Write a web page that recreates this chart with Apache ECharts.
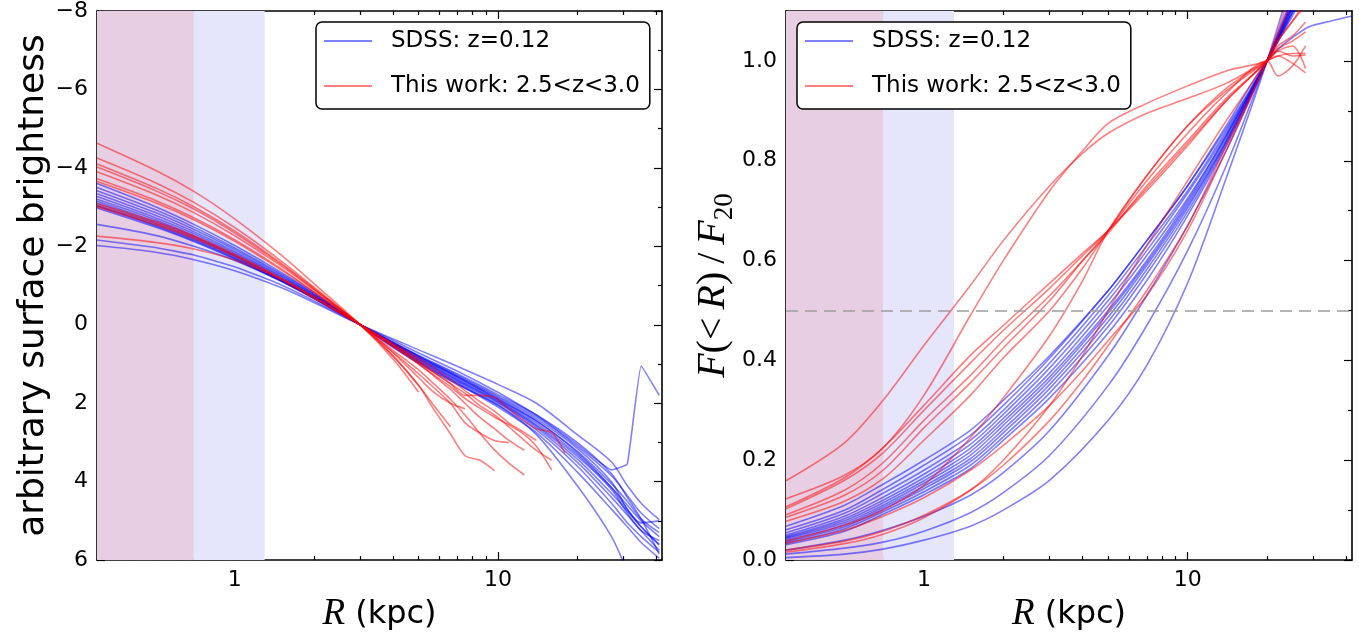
<!DOCTYPE html>
<html><head><meta charset="utf-8">
<script src="https://cdn.jsdelivr.net/npm/echarts@6/dist/echarts.min.js"></script>
<style>html,body{margin:0;padding:0;background:#fff}#c{width:1359px;height:638px}</style>
</head><body><div id="c"></div>
<script>
// ---------------- data ----------------
const legendNames = ['SDSS: z=0.12', 'This work: 2.5<z<3.0'];
const xMajorTicks = [1, 10];
const xMinorTicks = [0.4, 0.5, 0.6, 0.7, 0.8, 0.9, 2, 3, 4, 5, 6, 7, 8, 9, 20, 30, 40];
const sbTicks = [-8, -6, -4, -2, 0, 2, 4, 6];
const sbMinorTicks = [-7, -5, -3, -1, 1, 3, 5];
const cfTicks = [0, 0.2, 0.4, 0.6, 0.8, 1.0];
const cfMinorTicks = [0.1, 0.3, 0.5, 0.7, 0.9];
const bandInner = [0.3, 0.7];
const bandOuter = [0.7, 1.3];
const halfLevel = 0.5;

// left panel: surface brightness, SDSS radii
const sbRadiiSDSS = [0.3, 0.5, 0.7, 1, 1.5, 2, 3, 4, 5, 7, 10, 14, 20, 27, 31, 35, 41];
const sbS1  = [-2.02, -1.85, -1.66, -1.38, -0.95, -0.57, 0, 0.36, 0.64, 1.06, 1.52, 2.0, 2.8, 3.5, 4.1, 4.55, 4.97];
const sbS2  = [-2.16, -1.97, -1.78, -1.48, -1.02, -0.61, 0, 0.4, 0.72, 1.18, 1.72, 2.3, 3.05, 3.7, 3.55, 1.05, 1.8];
const sbS3  = [-2.56, -2.28, -2.0, -1.64, -1.12, -0.67, 0, 0.45, 0.8, 1.32, 1.9, 2.45, 3.25, 4.15, 4.7, 5.15, 5.6];
const sbS4  = [-3.6, -3.01, -2.56, -2.02, -1.34, -0.81, 0, 0.58, 0.98, 1.52, 2.05, 2.8, 4.1, 5.4, 6.3];
const sbS5  = [-3.5, -2.93, -2.49, -1.96, -1.3, -0.79, 0, 0.56, 0.96, 1.5, 2.1, 2.75, 3.75, 4.7, 5.15, 5.55, 5.95];
const sbS6  = [-3.42, -2.86, -2.43, -1.92, -1.27, -0.77, 0, 0.55, 0.94, 1.48, 2.05, 2.68, 3.6, 4.55, 5.05, 5.4, 5.8];
const sbS7  = [-3.34, -2.79, -2.37, -1.87, -1.24, -0.75, 0, 0.53, 0.92, 1.45, 2.0, 2.62, 3.5, 4.4, 4.85, 5.25, 5.75];
const sbS8  = [-3.27, -2.73, -2.32, -1.83, -1.22, -0.74, 0, 0.52, 0.9, 1.42, 1.97, 2.58, 3.42, 4.3, 4.75, 5.15, 5.62];
const sbS9  = [-3.2, -2.68, -2.27, -1.79, -1.19, -0.72, 0, 0.5, 0.88, 1.4, 1.95, 2.55, 3.35, 4.2, 4.8, 5.25, 5.5];
const sbS10 = [-3.15, -2.63, -2.24, -1.76, -1.17, -0.71, 0, 0.5, 0.86, 1.37, 1.92, 2.5, 3.3, 4.15, 4.6, 5.0, 5.4];
const sbS11 = [-3.1, -2.59, -2.2, -1.74, -1.15, -0.7, 0, 0.48, 0.84, 1.34, 1.88, 2.45, 3.22, 4.05, 4.5, 4.95, 5.3];
const sbS12 = [-3.05, -2.55, -2.17, -1.71, -1.13, -0.69, 0, 0.47, 0.82, 1.31, 1.85, 2.4, 3.15, 4.0, 4.7, 5.05, 5.0];
const sbS13 = [-3.02, -2.52, -2.14, -1.69, -1.12, -0.68, 0, 0.46, 0.8, 1.28, 1.82, 2.35, 3.1, 3.85, 4.35, 4.8, 5.2];
const sbS14 = [-2.98, -2.49, -2.12, -1.67, -1.11, -0.67, 0, 0.45, 0.78, 1.25, 1.78, 2.3, 3.0, 3.8, 4.4, 4.95, 5.85];

// left panel: surface brightness, this work radii
const sbRadiiWork = [0.3, 0.5, 0.7, 1, 1.5, 2, 3, 4, 5, 5.7, 6.6, 7.5, 8.5, 9.7, 11, 12.6, 14, 16, 18];
const sbW1  = [-4.63, -3.94, -3.4, -2.7, -1.78, -1.05, 0, 0.88, 1.72];
const sbW2  = [-4.25, -3.62, -3.12, -2.48, -1.63, -0.96, 0, 0.8, 1.55, 2.05, 2.6];
const sbW3  = [-4.1, -3.49, -3.01, -2.39, -1.57, -0.93, 0, 0.72, 1.35, 1.72, 2.0, 2.14];
const sbW4  = [-4.02, -3.42, -2.95, -2.34, -1.54, -0.91, 0, 0.8, 1.55, 2.15, 2.78, 3.34, 3.45, 3.72];
const sbW5  = [-3.9, -3.32, -2.86, -2.27, -1.5, -0.89, 0, 0.7, 1.25, 1.6, 2.0, 2.5, 2.75, 2.95, 3.0];
const sbW6  = [-3.72, -3.17, -2.73, -2.17, -1.43, -0.84, 0, 0.65, 1.15, 1.5, 1.9, 2.3, 2.75, 3.19, 3.53, 3.83];
const sbW7  = [-3.65, -3.11, -2.68, -2.13, -1.4, -0.83, 0, 0.55, 1.0, 1.28, 1.58, 1.88, 2.12, 2.35, 2.55, 2.8, 3.1, 3.7];
const sbW8  = [-3.09, -2.63, -2.27, -1.8, -1.19, -0.7, 0, 0.5, 0.95, 1.22, 1.5, 1.8, 1.8, 1.85, 2.15, 2.45, 2.65, 2.75, 3.28];
const sbW9  = [-3.04, -2.59, -2.23, -1.77, -1.17, -0.69, 0, 0.52, 0.92, 1.2, 1.5, 1.75, 2.05, 2.3, 2.6, 2.95, 3.2, 3.45];
const sbW10 = [-2.26, -2.1, -1.93, -1.65, -1.17, -0.72, 0, 0.48, 0.85, 1.1, 1.4, 1.68, 1.95, 2.2, 2.5, 2.75, 2.95];
const sbW11 = [-3.0, -2.55, -2.2, -1.75, -1.15, -0.68, 0, 0.55, 1.0, 1.3, 1.65, 2.0, 2.35, 2.65, 2.95, 3.2];

// right panel: cumulative flux, SDSS radii
const cfRadiiSDSS = [0.3, 0.5, 0.7, 1, 1.5, 2, 3, 5, 7, 10, 14, 20, 28, 35, 42];
const cfS1  = [0.005, 0.012, 0.022, 0.04, 0.068, 0.1, 0.16, 0.28, 0.39, 0.555, 0.765, 1.0, 1.25, 1.4, 1.5];
const cfS2  = [0.012, 0.024, 0.036, 0.058, 0.095, 0.135, 0.21, 0.35, 0.47, 0.62, 0.79, 1.0, 1.2, 1.35, 1.5];
const cfS3  = [0.02, 0.04, 0.06, 0.088, 0.13, 0.175, 0.26, 0.41, 0.53, 0.67, 0.82, 1.0, 1.18, 1.3, 1.42];
const cfS4  = [0.068, 0.11, 0.152, 0.2, 0.26, 0.32, 0.41, 0.54, 0.64, 0.75, 0.87, 1.0, 1.065, 1.08, 1.09];
const cfS5  = [0.061, 0.1, 0.142, 0.19, 0.25, 0.31, 0.405, 0.54, 0.64, 0.75, 0.865, 1.0, 1.14, 1.25, 1.35];
const cfS6  = [0.055, 0.094, 0.134, 0.18, 0.24, 0.3, 0.395, 0.53, 0.63, 0.74, 0.86, 1.0, 1.15, 1.27, 1.37];
const cfS7  = [0.05, 0.088, 0.126, 0.172, 0.232, 0.292, 0.385, 0.52, 0.62, 0.735, 0.855, 1.0, 1.15, 1.27, 1.38];
const cfS8  = [0.047, 0.083, 0.12, 0.165, 0.224, 0.284, 0.375, 0.51, 0.61, 0.725, 0.85, 1.0, 1.16, 1.28, 1.38];
const cfS9  = [0.045, 0.079, 0.115, 0.159, 0.217, 0.277, 0.367, 0.5, 0.6, 0.72, 0.85, 1.0, 1.16, 1.28, 1.4];
const cfS10 = [0.043, 0.075, 0.11, 0.154, 0.21, 0.27, 0.36, 0.495, 0.595, 0.715, 0.845, 1.0, 1.17, 1.3, 1.4];
const cfS11 = [0.04, 0.071, 0.106, 0.148, 0.203, 0.262, 0.352, 0.487, 0.59, 0.71, 0.84, 1.0, 1.17, 1.3, 1.4];
const cfS12 = [0.037, 0.067, 0.102, 0.143, 0.197, 0.255, 0.344, 0.478, 0.582, 0.705, 0.838, 1.0, 1.18, 1.3, 1.42];
const cfS13 = [0.034, 0.063, 0.097, 0.137, 0.19, 0.247, 0.335, 0.468, 0.573, 0.698, 0.835, 1.0, 1.18, 1.32, 1.42];
const cfS14 = [0.031, 0.058, 0.092, 0.131, 0.183, 0.24, 0.325, 0.455, 0.56, 0.69, 0.83, 1.0, 1.19, 1.32, 1.44];

// right panel: cumulative flux, this work radii
const cfRadiiWork = [0.3, 0.5, 0.7, 1, 1.5, 2, 3, 4, 5, 7, 10, 14, 20, 22, 25, 28];
const cfW1  = [0.159, 0.235, 0.32, 0.43, 0.55, 0.64, 0.75, 0.815, 0.855, 0.895, 0.925, 0.955, 1.0, 1.01, 1.015, 1.015];
const cfW2  = [0.123, 0.17, 0.225, 0.33, 0.49, 0.6, 0.74, 0.82, 0.875, 0.915, 0.95, 0.98, 1.0, 1.02, 1.01, 1.012];
const cfW3  = [0.107, 0.165, 0.225, 0.31, 0.41, 0.47, 0.555, 0.615, 0.66, 0.74, 0.83, 0.92, 1.0, 1.03, 1.05, 1.078];
const cfW4  = [0.103, 0.16, 0.215, 0.3, 0.395, 0.46, 0.545, 0.61, 0.66, 0.745, 0.835, 0.92, 1.0, 1.025, 1.04, 1.058];
const cfW5  = [0.091, 0.14, 0.195, 0.28, 0.37, 0.44, 0.53, 0.6, 0.655, 0.75, 0.84, 0.925, 1.0, 1.04, 1.08, 1.12];
const cfW6  = [0.086, 0.13, 0.18, 0.265, 0.355, 0.425, 0.52, 0.6, 0.66, 0.76, 0.855, 0.935, 1.0, 0.97, 0.99, 1.03];
const cfW7  = [0.078, 0.118, 0.163, 0.24, 0.33, 0.405, 0.5, 0.585, 0.66, 0.77, 0.87, 0.945, 1.0, 1.01, 0.995, 0.976];
const cfW8  = [0.038, 0.07, 0.1, 0.15, 0.245, 0.325, 0.45, 0.56, 0.66, 0.77, 0.87, 0.94, 1.0, 1.02, 1.03, 0.985];
const cfW9  = [0.034, 0.06, 0.088, 0.125, 0.18, 0.23, 0.31, 0.38, 0.44, 0.53, 0.66, 0.82, 1.0, 1.06, 1.15, 1.22];
const cfW10 = [0.02, 0.038, 0.058, 0.09, 0.14, 0.19, 0.28, 0.36, 0.43, 0.54, 0.67, 0.83, 1.0, 1.05, 1.12, 1.18];
const cfW11 = [0.016, 0.033, 0.052, 0.085, 0.14, 0.2, 0.31, 0.41, 0.5, 0.63, 0.76, 0.88, 1.0, 1.04, 1.08, 1.11];

const sbSDSS = [sbS1, sbS2, sbS3, sbS4, sbS5, sbS6, sbS7, sbS8, sbS9, sbS10, sbS11, sbS12, sbS13, sbS14];
const sbWork = [sbW1, sbW2, sbW3, sbW4, sbW5, sbW6, sbW7, sbW8, sbW9, sbW10, sbW11];
const cfSDSS = [cfS1, cfS2, cfS3, cfS4, cfS5, cfS6, cfS7, cfS8, cfS9, cfS10, cfS11, cfS12, cfS13, cfS14];
const cfWork = [cfW1, cfW2, cfW3, cfW4, cfW5, cfW6, cfW7, cfW8, cfW9, cfW10, cfW11];

// ---------------- styling ----------------
const BLUE = 'rgba(0,0,255,0.5)';
const RED = 'rgba(255,0,0,0.5)';
const PINK = 'rgb(231,206,227)';
const LAV = 'rgb(229,229,251)';
const FONT = 'DejaVu Sans';
const SERIF = 'Liberation Serif';
const LW = 1.6;

function pairs(radii, vals) {
  const out = [];
  for (let i = 0; i < vals.length; i++) out.push([radii[i], vals[i]]);
  return out;
}

function xAxes(g) {
  const base = {type: 'log', logBase: 10, gridIndex: g, min: 0.3, max: 42, splitLine: {show: false}, minorTick: {show: false}};
  const tickStyle = {color: '#000', width: 1.2};
  return [
    Object.assign({}, base, {
      position: 'bottom',
      axisLine: {show: true, onZero: false, lineStyle: {color: '#000', width: 1.6}},
      axisTick: {show: true, inside: true, length: 8, customValues: xMajorTicks, lineStyle: tickStyle},
      axisLabel: {show: true, customValues: xMajorTicks, fontSize: 22, color: '#000', fontFamily: FONT, margin: 9, formatter: v => String(Math.round(v))},
      name: '{i|R}{n| (kpc)}', nameLocation: 'middle', nameGap: 31,
      nameTextStyle: {rich: {
        i: {fontFamily: SERIF, fontStyle: 'italic', fontSize: 37, color: '#000', lineHeight: 40},
        n: {fontFamily: FONT, fontSize: 32, color: '#000', lineHeight: 40}
      }}
    }),
    Object.assign({}, base, {
      position: 'bottom', axisLine: {show: false, onZero: false},
      axisTick: {show: true, inside: true, length: 4, customValues: xMinorTicks, lineStyle: tickStyle},
      axisLabel: {show: false}
    }),
    Object.assign({}, base, {
      position: 'top', axisLine: {show: true, onZero: false, lineStyle: {color: '#000', width: 1.6}},
      axisTick: {show: true, inside: true, length: 8, customValues: xMajorTicks, lineStyle: tickStyle},
      axisLabel: {show: false}
    }),
    Object.assign({}, base, {
      position: 'top', axisLine: {show: false, onZero: false},
      axisTick: {show: true, inside: true, length: 4, customValues: xMinorTicks, lineStyle: tickStyle},
      axisLabel: {show: false}
    })
  ];
}

function yAxes(g, min, max, inverse, major, minor, fmt, name, nameGap, nameStyle) {
  const base = {type: 'value', gridIndex: g, min: min, max: max, inverse: inverse, splitLine: {show: false}};
  const tickStyle = {color: '#000', width: 1.2};
  return [
    Object.assign({}, base, {
      position: 'left',
      axisLine: {show: true, onZero: false, lineStyle: {color: '#000', width: 1.6}},
      axisTick: {show: true, inside: true, length: 8, customValues: major, lineStyle: tickStyle},
      axisLabel: {show: true, customValues: major, fontSize: 22, color: '#000', fontFamily: FONT, margin: 9, formatter: fmt},
      name: name, nameLocation: 'middle', nameGap: nameGap, nameRotate: 90, nameTextStyle: nameStyle
    }),
    Object.assign({}, base, {
      position: 'left', axisLine: {show: false, onZero: false},
      axisTick: {show: true, inside: true, length: 4, customValues: minor, lineStyle: tickStyle},
      axisLabel: {show: false}
    }),
    Object.assign({}, base, {
      position: 'right', axisLine: {show: true, onZero: false, lineStyle: {color: '#000', width: 1.6}},
      axisTick: {show: true, inside: true, length: 8, customValues: major, lineStyle: tickStyle},
      axisLabel: {show: false}
    }),
    Object.assign({}, base, {
      position: 'right', axisLine: {show: false, onZero: false},
      axisTick: {show: true, inside: true, length: 4, customValues: minor, lineStyle: tickStyle},
      axisLabel: {show: false}
    })
  ];
}

const sbFmt = v => (v < 0 ? '\u2212' + Math.abs(v) : String(v));
const cfFmt = v => v.toFixed(1);

const series = [];
function bandSeries(xi, yi, withHalf) {
  const s = {
    type: 'line', xAxisIndex: xi, yAxisIndex: yi, data: [], silent: true, z: 1,
    markArea: {silent: true, label: {show: false}, data: [
      [{xAxis: bandInner[0], itemStyle: {color: PINK}}, {xAxis: bandInner[1]}],
      [{xAxis: bandOuter[0], itemStyle: {color: LAV}}, {xAxis: bandOuter[1]}]
    ]}
  };
  if (withHalf) {
    s.markLine = {silent: true, symbol: ['none', 'none'], label: {show: false},
      lineStyle: {color: '#9d9d9d', width: 1.6, type: [12, 7]},
      data: [{yAxis: halfLevel}]};
  }
  return s;
}
series.push(bandSeries(0, 0, false));
series.push(bandSeries(4, 4, true));

function addLines(list, radii, name, color, xi, yi) {
  list.forEach(vals => series.push({
    type: 'line', name: name, xAxisIndex: xi, yAxisIndex: yi, data: pairs(radii, vals),
    symbol: 'none', showSymbol: false, silent: true, z: 3, clip: true,
    smooth: vals === sbS2 ? 0.1 : 0.3,
    lineStyle: {color: color, width: LW}, itemStyle: {color: color}
  }));
}
addLines(sbSDSS, sbRadiiSDSS, legendNames[0], BLUE, 0, 0);
addLines(sbWork, sbRadiiWork, legendNames[1], RED, 0, 0);
addLines(cfSDSS, cfRadiiSDSS, legendNames[0], BLUE, 4, 4);
addLines(cfWork, cfRadiiWork, legendNames[1], RED, 4, 4);

function legendAt(left) {
  return {
    left: left, top: 22, orient: 'vertical', backgroundColor: '#fff',
    borderColor: '#000', borderWidth: 1.5, borderRadius: 6, padding: [7, 10, 11, 8],
    itemWidth: 48, itemHeight: 2, itemGap: 21, icon: 'rect', selectedMode: false,
    textStyle: {fontFamily: FONT, fontSize: 23, color: '#000', lineHeight: 24, padding: [0, 0, 0, 14]},
    data: legendNames, z: 10
  };
}

const option = {
  animation: false,
  backgroundColor: '#fff',
  grid: [
    {left: 97, top: 11, width: 565, height: 553},
    {left: 786, top: 11, width: 566, height: 553}
  ],
  legend: [legendAt(316), legendAt(797)],
  xAxis: xAxes(0).concat(xAxes(1)),
  yAxis: yAxes(0, -8, 6, true, sbTicks, sbMinorTicks, sbFmt, 'arbitrary surface brightness', 32,
           {fontFamily: FONT, fontSize: 36, color: '#000'})
    .concat(yAxes(1, 0, 1.1, false, cfTicks, cfMinorTicks, cfFmt,
           '{i|F}{n|(<\u2009}{i|R}{n|)\u2009/\u2009}{i|F}{s|20}', 43,
           {rich: {
             i: {fontFamily: SERIF, fontStyle: 'italic', fontSize: 40, color: '#000', lineHeight: 50, verticalAlign: 'middle'},
             n: {fontFamily: SERIF, fontSize: 40, color: '#000', lineHeight: 50, verticalAlign: 'middle'},
             s: {fontFamily: SERIF, fontSize: 27, color: '#000', lineHeight: 50, verticalAlign: 'bottom'}
           }})),
  series: series
};

const chart = echarts.init(document.getElementById('c'), null, {renderer: 'canvas'});
chart.setOption(option);
</script>
</body></html>
